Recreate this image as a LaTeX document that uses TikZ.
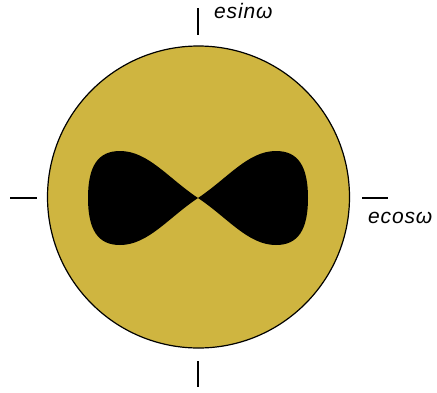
\documentclass[tikz,border=0pt]{standalone}
\usepackage{fontspec}
\setmainfont{Liberation Sans}
\newfontfamily\lblfont[LetterSpace=4]{Liberation Sans}
\definecolor{gold}{RGB}{207,181,64}
\begin{document}
\begin{tikzpicture}[x=1pt,y=-1pt,
  tick/.style={line width=1.5pt,black},
  lbl/.style={anchor=base west,inner sep=0pt,font=\fontsize{21}{25}\lblfont\itshape}]
\useasboundingbox (0,0) rectangle (437,392);
\fill[white] (0,0) rectangle (437,392);
% disk
\filldraw[fill=gold,draw=black,line width=1.2pt] (198.5,197) circle[radius=151];
% lemniscate-like lobes
\begin{scope}[shift={(198,198)}]
\fill[black] (0,0) .. controls (30,-20) and (50,-47) .. (78,-47)
  .. controls (100,-47) and (110,-32) .. (110,0)
  .. controls (110,32) and (100,47) .. (78,47)
  .. controls (50,47) and (30,20) .. (0,0) -- cycle;
\fill[black] (0,0) .. controls (-30,-20) and (-50,-47) .. (-78,-47)
  .. controls (-100,-47) and (-110,-32) .. (-110,0)
  .. controls (-110,32) and (-100,47) .. (-78,47)
  .. controls (-50,47) and (-30,20) .. (0,0) -- cycle;
\end{scope}
% ticks
\draw[tick] (198,8) -- (198,35);
\draw[tick] (198,361) -- (198,387);
\draw[tick] (10,198) -- (37,198);
\draw[tick] (362,198) -- (388,198);
% labels
\node[lbl] (sinlab) at (214,18) {esinω};
\node[lbl] (coslab) at (368,223) {ecosω};
\end{tikzpicture}
\end{document}
